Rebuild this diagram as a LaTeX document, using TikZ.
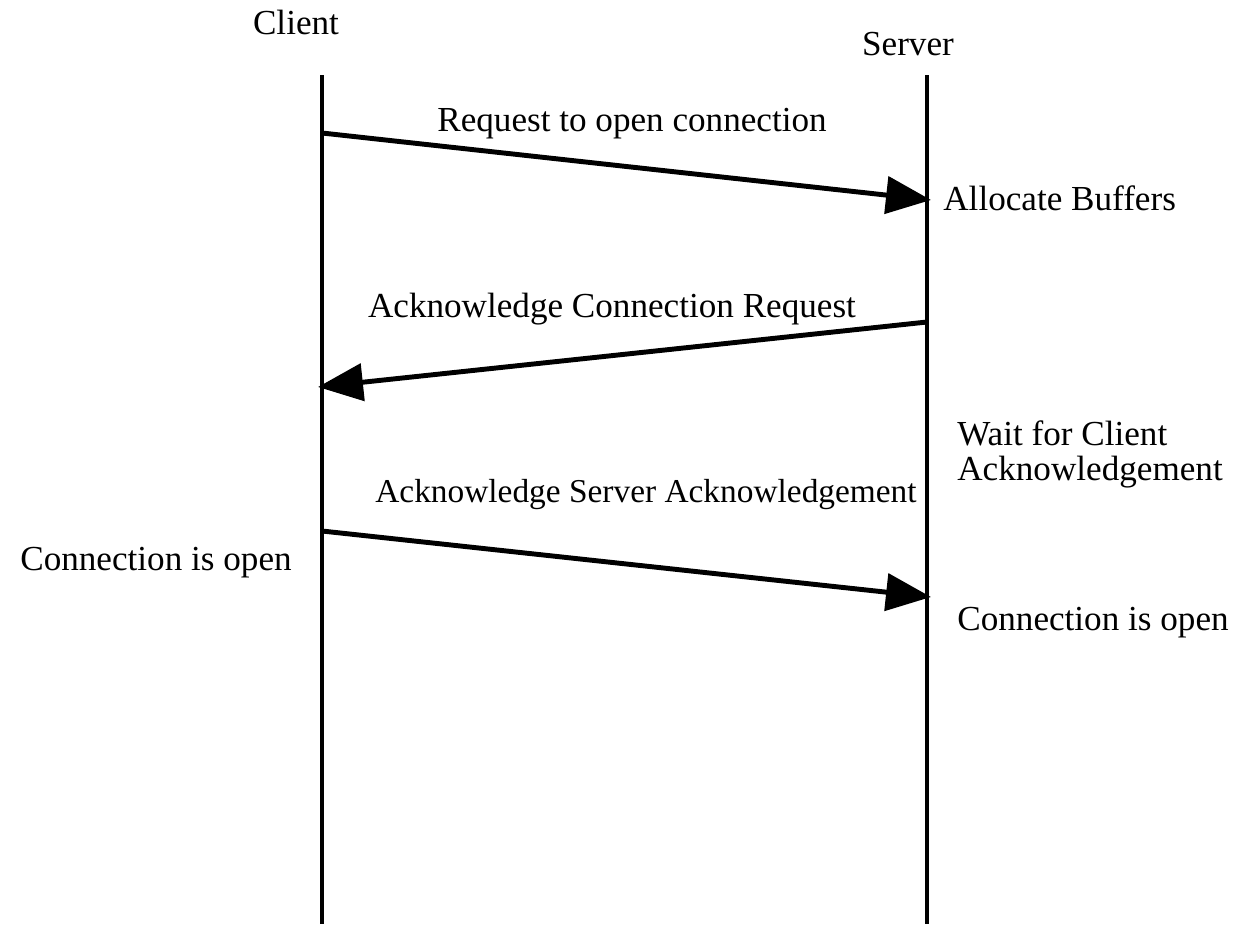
\documentclass[tikz,border=0pt]{standalone}
\usepackage{fontspec}
\setmainfont{Liberation Serif}
\usetikzlibrary{arrows.meta,positioning}

\tikzset{
	lifeline/.style={line width=2.8pt},
	msg/.style={line width=2.8pt,-{Triangle[length=0.9cm,width=0.74cm]}},
	txt/.style={font=\fontsize{20}{20}\selectfont,inner sep=0pt}
}

\begin{document}
\begin{tikzpicture}[x=0.02cm,y=-0.02cm]
		\useasboundingbox (0,0) rectangle (1241,924);
		% lifelines
		\coordinate (ctop) at (322,75);
		\coordinate (cbot) at (322,924);
		\coordinate (stop) at (927,75);
		\coordinate (sbot) at (927,924);
		\draw[lifeline] (ctop)--(cbot);
		\draw[lifeline] (stop)--(sbot);
		\node[txt] (client) at (296,22) {Client};
		\node[txt] (server) at (908,44) {Server};
		% messages
		\coordinate (c1) at (322,133);
		\coordinate (s1) at (931,200);
		\coordinate (s2) at (927,322);
		\coordinate (c2) at (318,387);
		\coordinate (c3) at (322,531);
		\coordinate (s3) at (931,597);
		\draw[msg] (c1)--(s1);
		\draw[msg] (s2)--(c2);
		\draw[msg] (c3)--(s3);
		\node[txt] (m1) at (632,124) {Request to open connection};
		\node[txt] (m2) at (612,309) {Acknowledge Connection Request};
		\node[txt,font=\fontsize{19}{19}\selectfont] (m3) at (646,495) {Acknowledge Server Acknowledgement};
		% states
		\node[txt,anchor=west] (alloc) at (943,198) {Allocate Buffers};
		\node[txt,anchor=west,align=left] (wait) at (957,454) {Wait for Client\\Acknowledgement};
		\node[txt,anchor=west] (copenc) at (20,563) {Connection is open};
		\node[txt,anchor=west] (copens) at (957,623) {Connection is open};
	\end{tikzpicture}
\end{document}
